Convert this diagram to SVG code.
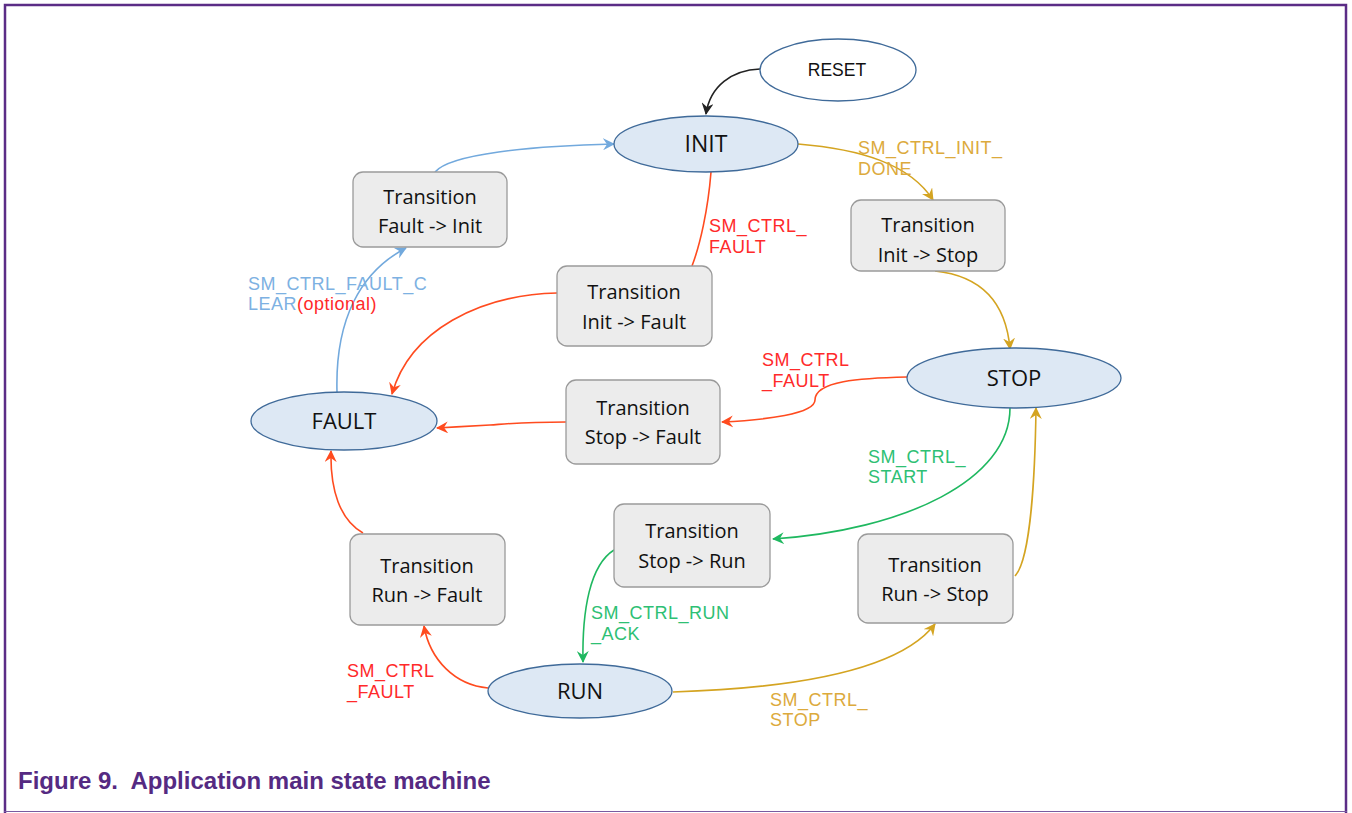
<svg xmlns="http://www.w3.org/2000/svg" width="1352" height="813" viewBox="0 0 1352 813">
<defs>
<style>
.st{fill:#dde8f4;stroke:#3f6a99;stroke-width:1.3}
.rs{fill:#ffffff;stroke:#3f6a99;stroke-width:1.3}
.tb{fill:#ececec;stroke:#9a9a9a;stroke-width:1.3}
.nt{font-family:"Open Sans","Noto Sans",sans-serif;fill:#111;text-anchor:middle}
.bt{font-size:20px}
.et{font-size:22px}
.lb{font-family:"Liberation Sans",Arial,sans-serif;font-size:18px;letter-spacing:0.5px}
.c{fill:none;stroke-width:1.6}
.red{stroke:#ff4b1f}.gold{stroke:#d4a421}.green{stroke:#1fb860}.blue{stroke:#72a9dd}.blk{stroke:#222}
</style>
<marker id="aRed" viewBox="0 0 12 12" refX="11" refY="6" markerWidth="12" markerHeight="12" markerUnits="userSpaceOnUse" orient="auto"><path d="M0,0 L12,6 L0,12 L4,6 z" fill="#ff4b1f"/></marker>
<marker id="aGold" viewBox="0 0 12 12" refX="11" refY="6" markerWidth="12" markerHeight="12" markerUnits="userSpaceOnUse" orient="auto"><path d="M0,0 L12,6 L0,12 L4,6 z" fill="#d4a421"/></marker>
<marker id="aGreen" viewBox="0 0 12 12" refX="11" refY="6" markerWidth="12" markerHeight="12" markerUnits="userSpaceOnUse" orient="auto"><path d="M0,0 L12,6 L0,12 L4,6 z" fill="#1fb860"/></marker>
<marker id="aBlue" viewBox="0 0 12 12" refX="11" refY="6" markerWidth="12" markerHeight="12" markerUnits="userSpaceOnUse" orient="auto"><path d="M0,0 L12,6 L0,12 L4,6 z" fill="#72a9dd"/></marker>
<marker id="aBlk" viewBox="0 0 12 12" refX="11" refY="6" markerWidth="12" markerHeight="12" markerUnits="userSpaceOnUse" orient="auto"><path d="M0,0 L12,6 L0,12 L4,6 z" fill="#222"/></marker>
</defs>
<rect x="0" y="0" width="1352" height="813" fill="#ffffff"/>
<path d="M5,813 V5 H1346 V813" fill="none" stroke="#5b2c86" stroke-width="2.5"/>
<line x1="4" y1="811.5" x2="1347" y2="811.5" stroke="#7a5aa0" stroke-width="1.2"/>

<g id="connectors">
<path class="c blk" d="M760,69 C732,70 710,86 706,114" marker-end="url(#aBlk)"/>
<path class="c gold" d="M798,144 C860,149 910,164 933,200" marker-end="url(#aGold)"/>
<path class="c gold" d="M935,271 C982,276 1006,302 1010,349" marker-end="url(#aGold)"/>
<path class="c red" d="M907,377 C860,378 815,381 815,400 C815,414 765,420 722,422" marker-end="url(#aRed)"/>
<path class="c red" d="M566,422 C520,422 505,424 490,425 C470,426 455,427 437,428" marker-end="url(#aRed)"/>
<path class="c red" d="M557,293 C480,295 410,330 392,394" marker-end="url(#aRed)"/>
<path class="c red" d="M711,172 C708,210 700,245 692,266"/>
<path class="c blue" d="M337,392 C335,320 360,272 406,248" marker-end="url(#aBlue)"/>
<path class="c blue" d="M435,172 C450,154 530,146 614,144" marker-end="url(#aBlue)"/>
<path class="c green" d="M1010,408 C1010,480 905,530 773,539" marker-end="url(#aGreen)"/>
<path class="c green" d="M614,550 C590,565 582,610 583,662" marker-end="url(#aGreen)"/>
<path class="c red" d="M488,688 C455,685 430,660 424,626" marker-end="url(#aRed)"/>
<path class="c red" d="M363,533 C340,520 330,490 331,451" marker-end="url(#aRed)"/>
<path class="c gold" d="M673,692 C800,688 900,670 935,624" marker-end="url(#aGold)"/>
<path class="c gold" d="M1015,576 C1030,560 1035,480 1036,408" marker-end="url(#aGold)"/>
</g>

<g id="reset"><ellipse class="rs" cx="838" cy="70" rx="78" ry="31"/><text x="837" y="76" font-family="Liberation Sans,Arial,sans-serif" font-size="17.5" fill="#111" text-anchor="middle">RESET</text></g>
<g id="init"><ellipse class="st" cx="706" cy="144" rx="92" ry="28"/><text class="nt" x="706" y="152" font-size="23">INIT</text></g>
<g id="stop"><ellipse class="st" cx="1014" cy="378" rx="107" ry="30"/><text class="nt et" x="1014" y="386">STOP</text></g>
<g id="fault"><ellipse class="st" cx="344" cy="421" rx="93" ry="29"/><text class="nt et" x="344" y="429">FAULT</text></g>
<g id="run"><ellipse class="st" cx="580" cy="691" rx="92" ry="27"/><text class="nt et" x="580" y="699">RUN</text></g>

<g id="t_fault_init"><rect class="tb" x="353" y="172" width="154" height="75" rx="10"/><text class="nt bt" x="430" y="204">Transition</text><text class="nt bt" x="430" y="233">Fault -&gt; Init</text></g>
<g id="t_init_stop"><rect class="tb" x="851" y="200" width="154" height="71" rx="10"/><text class="nt bt" x="928" y="232">Transition</text><text class="nt bt" x="928" y="262">Init -&gt; Stop</text></g>
<g id="t_init_fault"><rect class="tb" x="557" y="266" width="155" height="80" rx="10"/><text class="nt bt" x="634" y="299">Transition</text><text class="nt bt" x="634" y="329">Init -&gt; Fault</text></g>
<g id="t_stop_fault"><rect class="tb" x="566" y="380" width="154" height="84" rx="10"/><text class="nt bt" x="643" y="415">Transition</text><text class="nt bt" x="643" y="444">Stop -&gt; Fault</text></g>
<g id="t_stop_run"><rect class="tb" x="614" y="504" width="156" height="83" rx="10"/><text class="nt bt" x="692" y="538">Transition</text><text class="nt bt" x="692" y="568">Stop -&gt; Run</text></g>
<g id="t_run_fault"><rect class="tb" x="350" y="534" width="155" height="91" rx="10"/><text class="nt bt" x="427" y="573">Transition</text><text class="nt bt" x="427" y="602">Run -&gt; Fault</text></g>
<g id="t_run_stop"><rect class="tb" x="858" y="534" width="155" height="89" rx="10"/><text class="nt bt" x="935" y="572">Transition</text><text class="nt bt" x="935" y="601">Run -&gt; Stop</text></g>

<g id="labels">
<text class="lb" x="858" y="154" fill="#dcaa3c">SM_CTRL_INIT_</text>
<text class="lb" x="858" y="175" fill="#dcaa3c">DONE</text>
<text class="lb" x="709" y="232" fill="#ff2a2a">SM_CTRL_</text>
<text class="lb" x="709" y="253" fill="#ff2a2a">FAULT</text>
<text class="lb" x="248" y="290" fill="#7db1e2">SM_CTRL_FAULT_C</text>
<text class="lb" x="248" y="310"><tspan fill="#7db1e2">LEAR</tspan><tspan fill="#ff2a2a">(optional)</tspan></text>
<text class="lb" x="762" y="366" fill="#ff2a2a">SM_CTRL</text>
<text class="lb" x="762" y="387" fill="#ff2a2a">_FAULT</text>
<text class="lb" x="868" y="463" fill="#2ec074">SM_CTRL_</text>
<text class="lb" x="868" y="483" fill="#2ec074">START</text>
<text class="lb" x="591" y="619" fill="#2ec074">SM_CTRL_RUN</text>
<text class="lb" x="591" y="640" fill="#2ec074">_ACK</text>
<text class="lb" x="347" y="677" fill="#ff2a2a">SM_CTRL</text>
<text class="lb" x="347" y="698" fill="#ff2a2a">_FAULT</text>
<text class="lb" x="770" y="706" fill="#dcaa3c">SM_CTRL_</text>
<text class="lb" x="770" y="726" fill="#dcaa3c">STOP</text>
</g>

<text x="18" y="789" font-family="Liberation Sans,Arial,sans-serif" font-size="24" font-weight="bold" fill="#552a82" xml:space="preserve">Figure 9.  Application main state machine</text>
</svg>
